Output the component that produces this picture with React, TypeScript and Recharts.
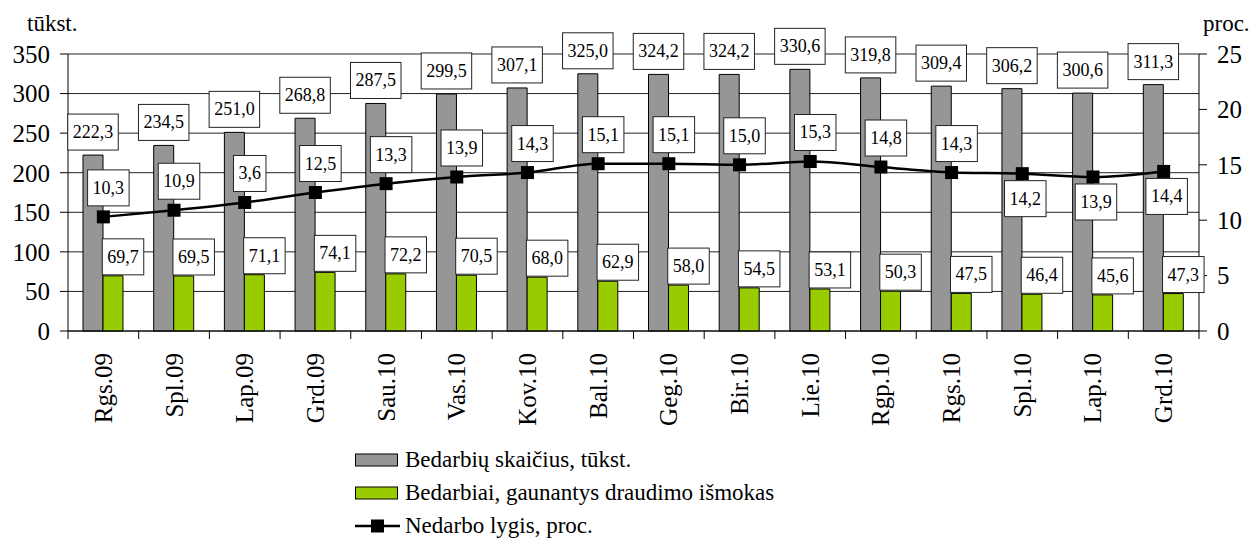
import React from "react";
import { ComposedChart, Bar, Line, XAxis, YAxis, CartesianGrid, Legend, LabelList } from "recharts";

const months = ["Rgs.09", "Spl.09", "Lap.09", "Grd.09", "Sau.10", "Vas.10", "Kov.10", "Bal.10", "Geg.10", "Bir.10", "Lie.10", "Rgp.10", "Rgs.10", "Spl.10", "Lap.10", "Grd.10"];
const unemployed = [222.3, 234.5, 251.0, 268.8, 287.5, 299.5, 307.1, 325.0, 324.2, 324.2, 330.6, 319.8, 309.4, 306.2, 300.6, 311.3];
const insured = [69.7, 69.5, 71.1, 74.1, 72.2, 70.5, 68.0, 62.9, 58.0, 54.5, 53.1, 50.3, 47.5, 46.4, 45.6, 47.3];
const rate = [10.3, 10.9, 11.6, 12.5, 13.3, 13.9, 14.3, 15.1, 15.1, 15.0, 15.3, 14.8, 14.3, 14.2, 13.9, 14.4];
const rateLabels = ["10,3", "10,9", "3,6", "12,5", "13,3", "13,9", "14,3", "15,1", "15,1", "15,0", "15,3", "14,8", "14,3", "14,2", "13,9", "14,4"];
const leftTicks = [0, 50, 100, 150, 200, 250, 300, 350];
const rightTicks = [0, 5, 10, 15, 20, 25];

const seriesNames = {
  unemployed: "Bedarbių skaičius, tūkst.",
  insured: "Bedarbiai, gaunantys draudimo išmokas",
  rate: "Nedarbo lygis, proc.",
};

const data = months.map((m, i) => ({ month: m, unemployed: unemployed[i], insured: insured[i], rate: rate[i], rateLabel: rateLabels[i] }));

const FONT = "Liberation Serif";
const GRAY = "#969696";
const GREEN = "#99cc00";
const LABEL_FS = 18;
const BOX_H = 36;
const RATE_BELOW_FROM = 13;

const fmt = (v: number) => v.toFixed(1).replace(".", ",");
const boxWidth = (t: string) => {
  let w = 0;
  for (const c of t) w += c === "," || c === "." ? 0.25 : 0.5;
  return w * LABEL_FS + 10;
};

const Box = ({ cx, top, text }: { cx: number; top: number; text: string }) => {
  const w = boxWidth(text);
  return (
    <g>
      <rect x={cx - w / 2} y={top} width={w} height={BOX_H} fill="#fff" stroke="#222" strokeWidth={1} />
      <text x={cx} y={top + BOX_H / 2} textAnchor="middle" dominantBaseline="central" style={{ fontFamily: FONT, fontSize: LABEL_FS }} fill="#000">
        {text}
      </text>
    </g>
  );
};

const GrayLabel = (p: any) => {
  const x = Number(p.x), y = Number(p.y), w = Number(p.width);
  return <Box cx={x + w / 2} top={y - 5 - BOX_H} text={fmt(Number(p.value))} />;
};

const GreenLabel = (p: any) => {
  const x = Number(p.x), y = Number(p.y), w = Number(p.width);
  return <Box cx={x + w / 2 + 10} top={y - 1 - BOX_H} text={fmt(Number(p.value))} />;
};

const RateLabel = (p: any) => {
  const x = Number(p.x), y = Number(p.y), i = Number(p.index);
  const text = rateLabels[i];
  if (i >= RATE_BELOW_FROM) return <Box cx={x + 3} top={y + 7} text={text} />;
  return <Box cx={x + 5} top={y - 11 - BOX_H} text={text} />;
};

const SquareDot = (p: any) => {
  if (p.cx == null || p.cy == null) return <g key={p.key} />;
  return <rect key={p.key} x={p.cx - 6.5} y={p.cy - 6.5} width={13} height={13} fill="#000" />;
};

const XTick = (p: any) => {
  const { x, y, payload, index } = p;
  const half = payload && payload.offset ? payload.offset : 35.35;
  const axisY = y - 22;
  return (
    <g>
      <line x1={x - half} y1={axisY} x2={x - half} y2={axisY + 8} stroke="#000" />
      {index === months.length - 1 && <line x1={x + half} y1={axisY} x2={x + half} y2={axisY + 8} stroke="#000" />}
      <text
        x={x}
        y={y}
        transform={`rotate(-90, ${x}, ${y})`}
        textAnchor="end"
        dominantBaseline="central"
        style={{ fontFamily: FONT, fontSize: 25 }}
        fill="#000"
      >
        {payload.value}
      </text>
    </g>
  );
};

const LegendContent = () => {
  const row: React.CSSProperties = { display: "flex", alignItems: "center", height: 33, whiteSpace: "nowrap" };
  return (
    <div style={{ fontFamily: FONT, fontSize: 23, color: "#000", lineHeight: "26px" }}>
      <div style={row}>
        <svg width={50} height={20}>
          <rect x={0.5} y={4} width={42} height={12} fill={GRAY} stroke="#000" />
        </svg>
        <span>{seriesNames.unemployed}</span>
      </div>
      <div style={row}>
        <svg width={50} height={20}>
          <rect x={0.5} y={4} width={42} height={12} fill={GREEN} stroke="#000" />
        </svg>
        <span>{seriesNames.insured}</span>
      </div>
      <div style={row}>
        <svg width={50} height={20}>
          <line x1={0} y1={10} x2={45} y2={10} stroke="#000" strokeWidth={2.5} />
          <rect x={16} y={3.5} width={13} height={13} fill="#000" />
        </svg>
        <span>{seriesNames.rate}</span>
      </div>
    </div>
  );
};

const LeftTitle = (p: any) => {
  const vb = p.viewBox || { x: 0, y: 54 };
  return (
    <text x={vb.x + 27} y={vb.y - 23} style={{ fontFamily: FONT, fontSize: 23 }} fill="#000">
      tūkst.
    </text>
  );
};

const RightTitle = (p: any) => {
  const vb = p.viewBox || { x: 1199, y: 54 };
  return (
    <text x={vb.x + 4} y={vb.y - 23} style={{ fontFamily: FONT, fontSize: 23 }} fill="#000">
      proc.
    </text>
  );
};

const tickStyle = { fontSize: 25, fontFamily: FONT, fill: "#000" };

export default function App() {
  return (
    <div style={{ position: "absolute", left: 0, top: 0, width: 1255, height: 539, background: "#fff", fontFamily: FONT }}>
      <ComposedChart width={1255} height={539} data={data} margin={{ top: 54, right: 0, bottom: 0, left: 0 }} barGap={0} style={{ fontFamily: FONT }}>
        <CartesianGrid vertical={false} stroke="#222" ticks={leftTicks} />
        <XAxis
          dataKey="month"
          interval={0}
          height={208}
          tickLine={false}
          tickSize={8}
          tickMargin={14}
          axisLine={{ stroke: "#000" }}
          tick={<XTick />}
        />
        <YAxis
          width={68}
          domain={[0, 350]}
          ticks={leftTicks}
          interval={0}
          tickSize={8}
          tickMargin={10}
          axisLine={{ stroke: "#000" }}
          tickLine={{ stroke: "#000" }}
          tick={tickStyle}
          label={<LeftTitle />}
        />
        <YAxis
          yAxisId="right"
          orientation="right"
          width={56}
          domain={[0, 25]}
          ticks={rightTicks}
          interval={0}
          tickSize={8}
          tickMargin={10}
          axisLine={{ stroke: "#000" }}
          tickLine={{ stroke: "#000" }}
          tick={tickStyle}
          label={<RightTitle />}
        />
        <Legend
          layout="vertical"
          verticalAlign="middle"
          align="center"
          content={<LegendContent />}
          wrapperStyle={{ position: "absolute", top: 443, left: 355, width: "auto", height: "auto" }}
        />
        <Bar dataKey="unemployed" name={seriesNames.unemployed} fill={GRAY} stroke="#000" strokeWidth={1} barSize={20} isAnimationActive={false}>
          <LabelList dataKey="unemployed" content={<GrayLabel />} />
        </Bar>
        <Bar dataKey="insured" name={seriesNames.insured} fill={GREEN} stroke="#000" strokeWidth={1} barSize={20} isAnimationActive={false}>
          <LabelList dataKey="insured" content={<GreenLabel />} />
        </Bar>
        <Line
          yAxisId="right"
          type="monotone"
          dataKey="rate"
          name={seriesNames.rate}
          stroke="#000"
          strokeWidth={2.5}
          dot={SquareDot}
          activeDot={false}
          isAnimationActive={false}
        >
          <LabelList dataKey="rate" content={<RateLabel />} />
        </Line>
      </ComposedChart>
    </div>
  );
}
